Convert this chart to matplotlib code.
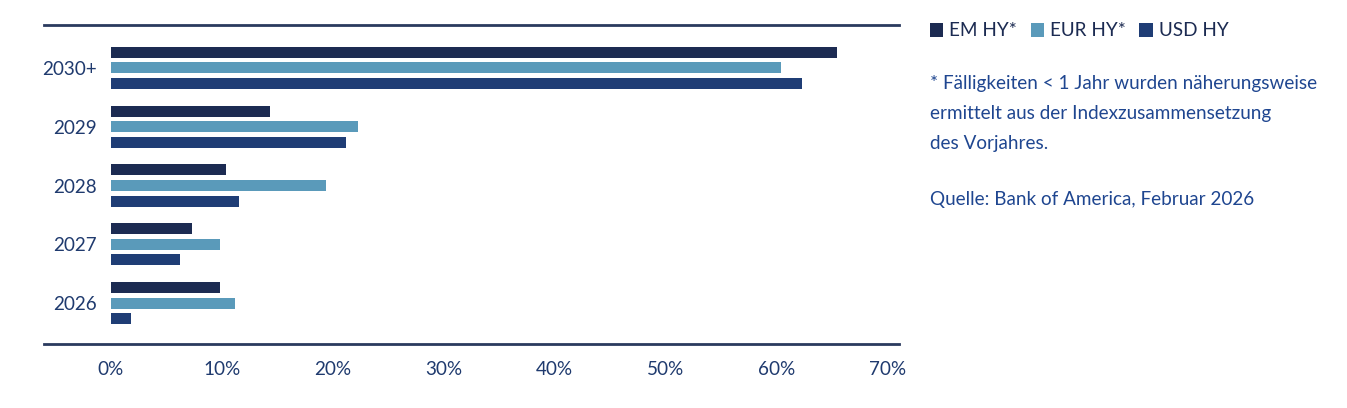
import matplotlib
matplotlib.use("Agg")
import matplotlib.pyplot as plt
from matplotlib.patches import Patch
import numpy as np

categories = ["2026", "2027", "2028", "2029", "2030+"]
series_names = ["EM HY*", "EUR HY*", "USD HY"]
em_hy = [9.8, 7.3, 10.4, 14.3, 65.5]
eur_hy = [11.2, 9.8, 19.4, 22.3, 60.4]
usd_hy = [1.8, 6.2, 11.5, 21.2, 62.3]
x_ticks = [0, 10, 20, 30, 40, 50, 60, 70]
x_tick_labels = ["0%", "10%", "20%", "30%", "40%", "50%", "60%", "70%"]
note_lines = ["* Fälligkeiten < 1 Jahr wurden näherungsweise",
              "ermittelt aus der Indexzusammensetzung",
              "des Vorjahres."]
source_text = "Quelle: Bank of America, Februar 2026"

colors = ["#1c2b52", "#5a9aba", "#1f3d75"]
axis_color = "#2a3a5e"
label_color = "#1f3a6e"
note_color = "#1f4690"
fs = 13.6

plt.rcParams['font.family'] = ['Lato', 'DejaVu Sans']

fig = plt.figure(figsize=(13.47, 4.08), dpi=100)
ax = fig.add_axes([44/1347, 1-344.3/408, (899-44)/1347, (344.3-25.3)/408])

y = np.arange(len(categories))
h = 0.187
off = 0.265
for vals, c, dy in zip([em_hy, eur_hy, usd_hy], colors, [off, 0, -off]):
    ax.barh(y + dy, vals, height=h, color=c, edgecolor="none")

ax.set_xlim(-6.04, 71.06)
ax.set_ylim(-0.70, 4.725)
ax.set_xticks(x_ticks)
ax.set_xticklabels(x_tick_labels)
ax.set_yticks(y)
ax.set_yticklabels(categories)
ax.tick_params(axis='both', length=0, labelsize=fs, labelcolor=label_color)
ax.tick_params(axis='x', pad=12)
ax.tick_params(axis='y', pad=-38)
for s in ["left", "right"]:
    ax.spines[s].set_visible(False)
for s in ["top", "bottom"]:
    ax.spines[s].set_color(axis_color)
    ax.spines[s].set_linewidth(2)

handles = [Patch(facecolor=c, edgecolor="none") for c in colors]
leg = fig.legend(handles, series_names, loc="center left",
                 bbox_to_anchor=(930/1347, 1-31/408), ncol=3, frameon=False,
                 fontsize=fs, handlelength=0.7, handleheight=0.7,
                 handletextpad=0.32, columnspacing=0.72, borderpad=0, borderaxespad=0)
for t in leg.get_texts():
    t.set_color(colors[0])

for i, line in enumerate(note_lines):
    fig.text(930/1347, 1-(83.5+30*i)/408, line, fontsize=fs, color=note_color,
             ha="left", va="center")
fig.text(930/1347, 1-200/408, source_text, fontsize=fs, color=note_color,
         ha="left", va="center")

fig.savefig("out.png", dpi=100)
